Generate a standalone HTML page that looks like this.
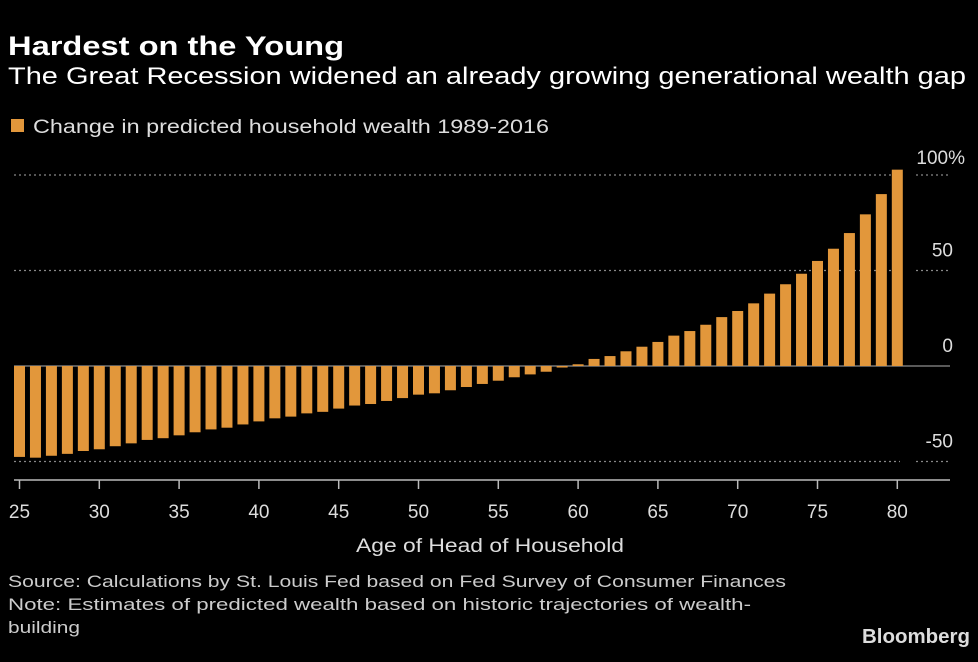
<!DOCTYPE html>
<html><head><meta charset="utf-8"><style>
html,body{margin:0;padding:0;background:#000;}
svg{display:block;font-family:"Liberation Sans",sans-serif;}
</style></head><body>
<svg id="chart" width="978" height="662" viewBox="0 0 978 662">
<text x="8" y="55" fill="#fff" font-size="27" font-weight="bold" textLength="336" lengthAdjust="spacingAndGlyphs">Hardest on the Young</text>
<text x="8" y="84" fill="#fff" font-size="24" textLength="958" lengthAdjust="spacingAndGlyphs">The Great Recession widened an already growing generational wealth gap</text>
<g>
<rect x="11" y="119" width="13" height="13" fill="#e2973b"/>
<text x="33" y="133" fill="#ddd" font-size="19" textLength="516" lengthAdjust="spacingAndGlyphs">Change in predicted household wealth 1989-2016</text>
</g>
<g id="grid"></g>
<g id="bars"></g>
<g id="axes"></g>
<text x="490" y="552" fill="#ddd" font-size="19" text-anchor="middle" textLength="268" lengthAdjust="spacingAndGlyphs">Age of Head of Household</text>
<text x="8" y="587" fill="#ccc" font-size="17" textLength="778" lengthAdjust="spacingAndGlyphs">Source: Calculations by St. Louis Fed based on Fed Survey of Consumer Finances</text>
<text x="8" y="610" fill="#ccc" font-size="17" textLength="743" lengthAdjust="spacingAndGlyphs">Note: Estimates of predicted wealth based on historic trajectories of wealth-</text>
<text x="8" y="633" fill="#ccc" font-size="17" textLength="72" lengthAdjust="spacingAndGlyphs">building</text>
<text x="970" y="643" fill="#ddd" font-size="20" font-weight="bold" text-anchor="end" textLength="108" lengthAdjust="spacingAndGlyphs">Bloomberg</text>
</svg>
<script>
const ages = [];
for (let a = 25; a <= 80; a++) ages.push(a);
const values = [-47.6,-48,-47,-46,-44.5,-43.6,-42,-40.5,-38.7,-37.8,-36.3,-34.7,-33.2,-32.3,-30.6,-29,-27.4,-26.5,-24.8,-24,-22.3,-20.7,-19.9,-18.3,-16.8,-15,-14.3,-12.7,-11,-9.4,-7.7,-5.9,-4.4,-3,-0.8,0.9,3.7,5.2,7.7,10.1,12.6,15.9,18.3,21.6,25.6,28.8,32.8,37.9,42.8,48.3,55,61.4,69.6,79.4,90,102.8];
const yTicks = [-50, 0, 50, 100];
const yTickLabels = ["-50", "0", "50", "100%"];
const xTicks = [25,30,35,40,45,50,55,60,65,70,75,80];

const NS = "http://www.w3.org/2000/svg";
function x(age){ return 19.5 + (age - 25) * 15.96; }
function y(v){ return 366 - v * 1.91; }
function mk(tag, attrs, parent){ const e = document.createElementNS(NS, tag); for (const k in attrs) e.setAttribute(k, attrs[k]); parent.appendChild(e); return e; }

const grid = document.getElementById('grid');
const bars = document.getElementById('bars');
const axes = document.getElementById('axes');

yTicks.forEach((t, i) => {
  const yy = y(t);
  if (t === 0) {
    const l = mk('line', {x1:14, x2:950, y1:yy, y2:yy, stroke:'#777', 'stroke-width':1.5}, grid);
    
    
  } else {
    const l = mk('line', {x1:14, x2:900, y1:yy, y2:yy, stroke:'#888', 'stroke-width':1.2, 'stroke-dasharray':'2 3'}, grid);
    
    
    const l2 = mk('line', {x1:916, x2:950, y1:yy, y2:yy, stroke:'#888', 'stroke-width':1.2, 'stroke-dasharray':'2 3'}, grid);
    
    
  }
  const isPct = yTickLabels[i].indexOf('%') >= 0;
  const tx = mk('text', {x:isPct ? 965 : 953, y:yy - (isPct ? 11 : 14), fill:'#ddd', 'font-size':19, 'text-anchor':'end'}, grid);
  tx.textContent = yTickLabels[i];
  
  
});

ages.forEach((a, i) => {
  const v = values[i];
  const y0 = y(0), y1 = y(v);
  const r = mk('rect', {x:x(a) - 5.5, width:11, y:Math.min(y0, y1), height:Math.max(0.8, Math.abs(y1 - y0)), fill:'#e2973b'}, bars);
  
  
});

const ax = mk('line', {x1:14, x2:950, y1:480, y2:480, stroke:'#bbb', 'stroke-width':1.5}, axes);


xTicks.forEach(t => {
  const tk = mk('line', {x1:x(t), x2:x(t), y1:480, y2:489, stroke:'#bbb', 'stroke-width':1.5}, axes);
  
  
  const lb = mk('text', {x:x(t), y:518, fill:'#ddd', 'font-size':19, 'text-anchor':'middle'}, axes);
  lb.textContent = t;
  
  
});
</script>
</body></html>
